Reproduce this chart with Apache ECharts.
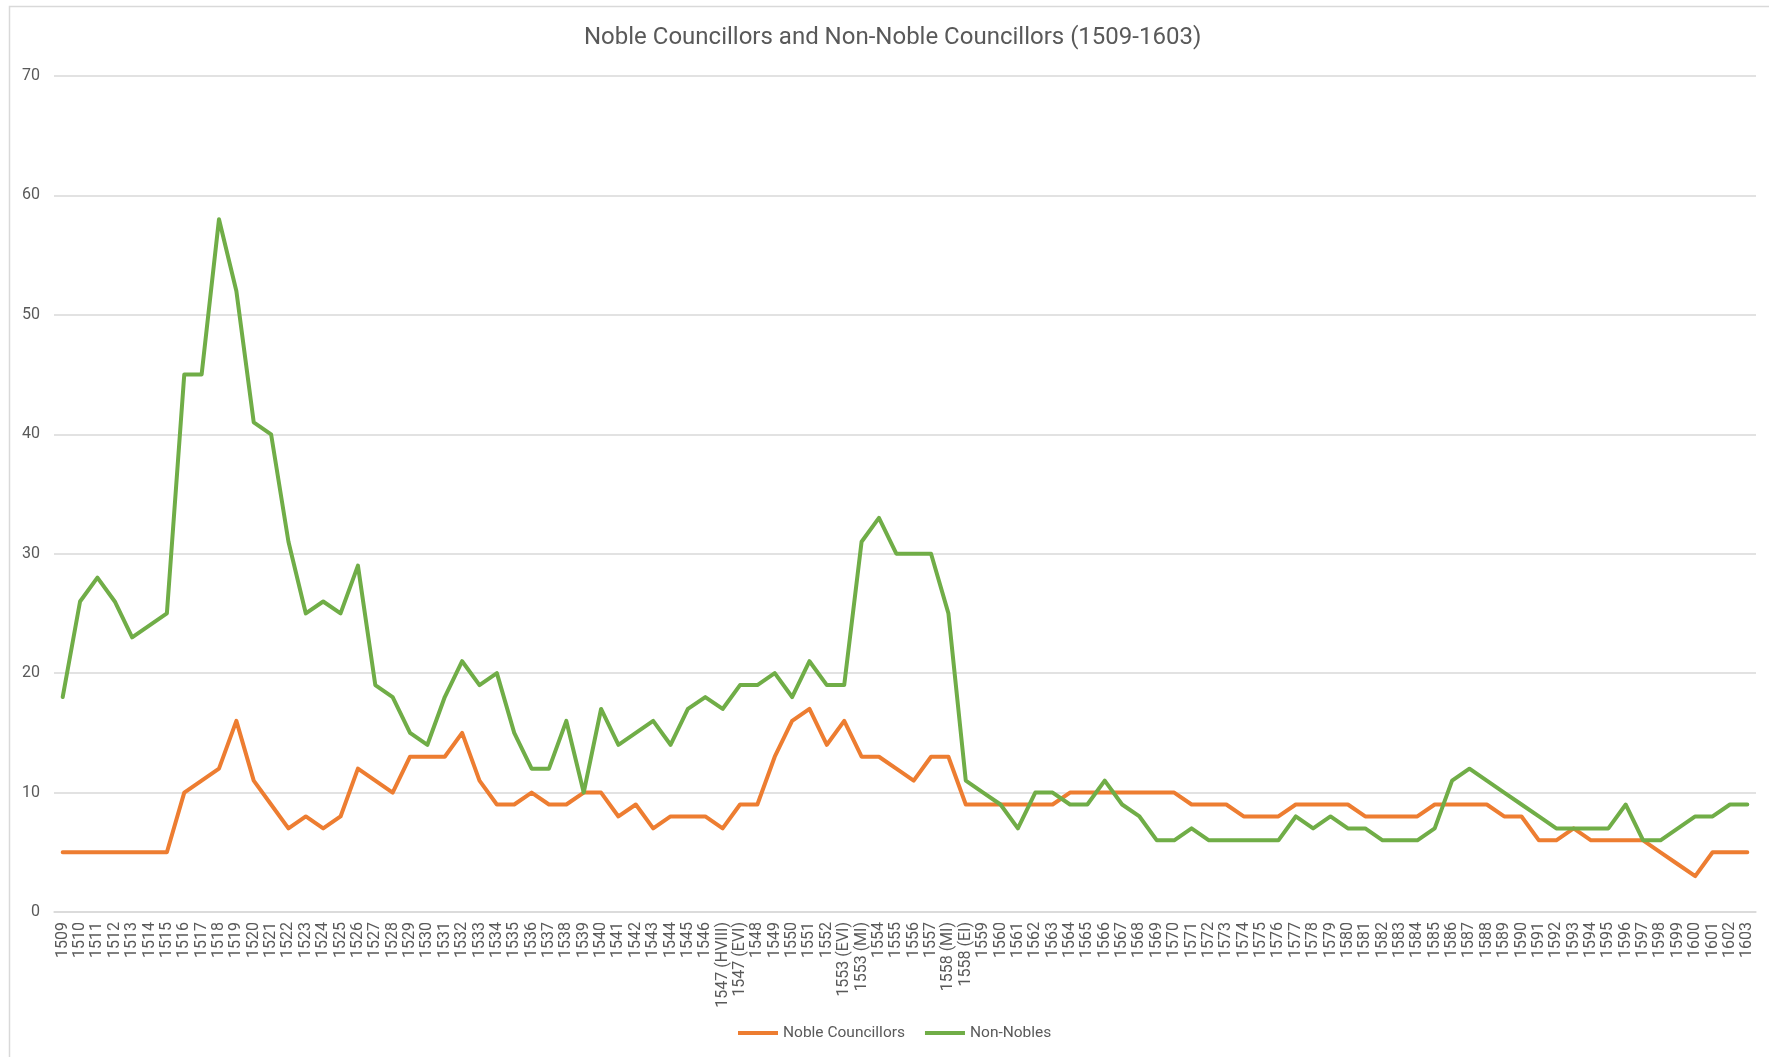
<!DOCTYPE html>
<html>
<head>
<meta charset="utf-8">
<title>Noble Councillors and Non-Noble Councillors (1509-1603)</title>
<script src="https://cdn.jsdelivr.net/npm/echarts@6/dist/echarts.min.js"></script>
<style>
  html, body { margin: 0; padding: 0; background: #ffffff; }
  #chart { width: 1769px; height: 1057px; }
</style>
</head>
<body>
<div id="chart"></div>
<script>
// Council years; some years have two sittings under different monarchs
const years = [
  '1509','1510','1511','1512','1513','1514','1515','1516','1517','1518',
  '1519','1520','1521','1522','1523','1524','1525','1526','1527','1528',
  '1529','1530','1531','1532','1533','1534','1535','1536','1537','1538',
  '1539','1540','1541','1542','1543','1544','1545','1546',
  '1547 (HVIII)','1547 (EVI)',
  '1548','1549','1550','1551','1552',
  '1553 (EVI)','1553 (MI)',
  '1554','1555','1556','1557',
  '1558 (MI)','1558 (EI)',
  '1559','1560','1561','1562','1563','1564','1565','1566','1567','1568',
  '1569','1570','1571','1572','1573','1574','1575','1576','1577','1578',
  '1579','1580','1581','1582','1583','1584','1585','1586','1587','1588',
  '1589','1590','1591','1592','1593','1594','1595','1596','1597','1598',
  '1599','1600','1601','1602','1603'
];

const nobleCouncillors = [
  5, 5, 5, 5, 5, 5, 5, 10, 11, 12,
  16, 11, 9, 7, 8, 7, 8, 12, 11, 10,
  13, 13, 13, 15, 11, 9, 9, 10, 9, 9,
  10, 10, 8, 9, 7, 8, 8, 8,
  7, 9,
  9, 13, 16, 17, 14,
  16, 13,
  13, 12, 11, 13,
  13, 9,
  9, 9, 9, 9, 9, 10, 10, 10, 10, 10,
  10, 10, 9, 9, 9, 8, 8, 8, 9, 9,
  9, 9, 8, 8, 8, 8, 9, 9, 9, 9,
  8, 8, 6, 6, 7, 6, 6, 6, 6, 5,
  4, 3, 5, 5, 5
];

const nonNobles = [
  18, 26, 28, 26, 23, 24, 25, 45, 45, 58,
  52, 41, 40, 31, 25, 26, 25, 29, 19, 18,
  15, 14, 18, 21, 19, 20, 15, 12, 12, 16,
  10, 17, 14, 15, 16, 14, 17, 18,
  17, 19,
  19, 20, 18, 21, 19,
  19, 31,
  33, 30, 30, 30,
  25, 11,
  10, 9, 7, 10, 10, 9, 9, 11, 9, 8,
  6, 6, 7, 6, 6, 6, 6, 6, 8, 7,
  8, 7, 7, 6, 6, 6, 7, 11, 12, 11,
  10, 9, 8, 7, 7, 7, 7, 9, 6, 6,
  7, 8, 8, 9, 9
];

const valueTicks = { min: 0, max: 70, step: 10 };

const textColor = '#595959';
const gridColor = '#d9d9d9';
const font = 'Roboto, "Noto Sans", sans-serif';

const chart = echarts.init(document.getElementById('chart'), null, { renderer: 'canvas' });

chart.setOption({
  backgroundColor: '#ffffff',
  animation: false,
  graphic: [{
    type: 'rect',
    shape: { x: 9.5, y: 6.5, width: 1800, height: 1100 },
    style: { fill: 'none', stroke: gridColor, lineWidth: 1.5 },
    silent: true,
    z: -1
  }],
  title: {
    text: 'Noble Councillors and Non-Noble Councillors (1509-1603)',
    left: 579,
    top: 21,
    textStyle: { fontFamily: font, fontSize: 24, fontWeight: 'normal', color: textColor }
  },
  legend: {
    bottom: 11,
    left: 733,
    itemWidth: 40,
    itemHeight: 4,
    itemGap: 20,
    icon: 'rect',
    textStyle: { fontFamily: font, fontSize: 15.5, color: textColor },
    data: ['Noble Councillors', 'Non-Nobles']
  },
  grid: { left: 54, right: 13, top: 76, bottom: 145, containLabel: false },
  xAxis: {
    type: 'category',
    data: years,
    boundaryGap: true,
    axisLine: { show: true, lineStyle: { color: gridColor, width: 1.5 } },
    axisTick: { show: false },
    axisLabel: {
      interval: 0,
      rotate: 90,
      margin: 10,
      fontFamily: font,
      fontSize: 16,
      color: textColor
    }
  },
  yAxis: {
    type: 'value',
    min: valueTicks.min,
    max: valueTicks.max,
    interval: valueTicks.step,
    axisLine: { show: false },
    axisTick: { show: false },
    axisLabel: { margin: 14, fontFamily: font, fontSize: 16, color: textColor },
    splitLine: { lineStyle: { color: gridColor, width: 1.5 } }
  },
  series: [
    {
      name: 'Noble Councillors',
      type: 'line',
      data: nobleCouncillors,
      symbol: 'none',
      color: '#ED7D31',
      lineStyle: { width: 4, color: '#ED7D31', cap: 'round', join: 'round' },
      z: 3
    },
    {
      name: 'Non-Nobles',
      type: 'line',
      data: nonNobles,
      symbol: 'none',
      color: '#70AD47',
      lineStyle: { width: 4, color: '#70AD47', cap: 'round', join: 'round' },
      z: 4
    }
  ]
});
</script>
</body>
</html>
